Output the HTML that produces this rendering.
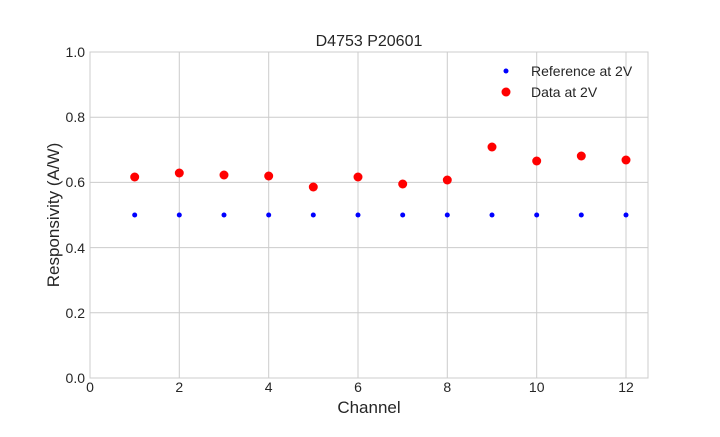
<!DOCTYPE html>
<html><head><meta charset="utf-8"><style>body{margin:0;background:#fff}</style></head><body>
<svg width="720" height="432" xmlns="http://www.w3.org/2000/svg" font-family="Liberation Sans, sans-serif">
<rect width="720" height="432" fill="#fff"/>
<g stroke="#cccccc" stroke-width="1">
<line x1="179.3" y1="52" x2="179.3" y2="378"/><line x1="268.7" y1="52" x2="268.7" y2="378"/>
<line x1="358" y1="52" x2="358" y2="378"/><line x1="447.3" y1="52" x2="447.3" y2="378"/>
<line x1="536.7" y1="52" x2="536.7" y2="378"/><line x1="626" y1="52" x2="626" y2="378"/>
<line x1="90" y1="312.8" x2="648" y2="312.8"/><line x1="90" y1="247.6" x2="648" y2="247.6"/>
<line x1="90" y1="182.4" x2="648" y2="182.4"/><line x1="90" y1="117.2" x2="648" y2="117.2"/>
</g>
<rect x="90" y="52" width="558" height="326" fill="none" stroke="#cccccc"/>
<g fill="#0000ff">
<circle cx="134.7" cy="215" r="2.5"/><circle cx="179.3" cy="215" r="2.5"/><circle cx="224" cy="215" r="2.5"/><circle cx="268.7" cy="215" r="2.5"/><circle cx="313.3" cy="215" r="2.5"/><circle cx="358" cy="215" r="2.5"/><circle cx="402.7" cy="215" r="2.5"/><circle cx="447.3" cy="215" r="2.5"/><circle cx="492" cy="215" r="2.5"/><circle cx="536.7" cy="215" r="2.5"/><circle cx="581.3" cy="215" r="2.5"/><circle cx="626" cy="215" r="2.5"/>
</g>
<g fill="#ff0000">
<circle cx="134.7" cy="177" r="4.5"/><circle cx="179.3" cy="173" r="4.5"/><circle cx="224" cy="175" r="4.5"/><circle cx="268.7" cy="176" r="4.5"/><circle cx="313.3" cy="187" r="4.5"/><circle cx="358" cy="177" r="4.5"/><circle cx="402.7" cy="184" r="4.5"/><circle cx="447.3" cy="180" r="4.5"/><circle cx="492" cy="147" r="4.5"/><circle cx="536.7" cy="161" r="4.5"/><circle cx="581.3" cy="156" r="4.5"/><circle cx="626" cy="160" r="4.5"/>
</g>
<g font-size="14" fill="#262626" text-anchor="middle">
<text x="90" y="392">0</text><text x="179.3" y="392">2</text><text x="268.7" y="392">4</text><text x="358" y="392">6</text><text x="447.3" y="392">8</text><text x="536.7" y="392">10</text><text x="626" y="392">12</text>
</g>
<g font-size="14" fill="#262626" text-anchor="end">
<text x="85" y="383">0.0</text><text x="85" y="318">0.2</text><text x="85" y="253">0.4</text><text x="85" y="187">0.6</text><text x="85" y="122">0.8</text><text x="85" y="57">1.0</text>
</g>
<text x="369" y="46" font-size="16" fill="#262626" text-anchor="middle">D4753 P20601</text>
<text x="369" y="413" font-size="17" fill="#262626" text-anchor="middle">Channel</text>
<text transform="translate(59,215) rotate(-90)" font-size="17" fill="#262626" text-anchor="middle">Responsivity (A/W)</text>
<circle cx="506" cy="71" r="2.5" fill="#0000ff"/>
<text x="531" y="76" font-size="14" fill="#262626">Reference at 2V</text>
<circle cx="506" cy="92" r="4.5" fill="#ff0000"/>
<text x="531" y="97" font-size="14" fill="#262626">Data at 2V</text>
</svg>
</body></html>
